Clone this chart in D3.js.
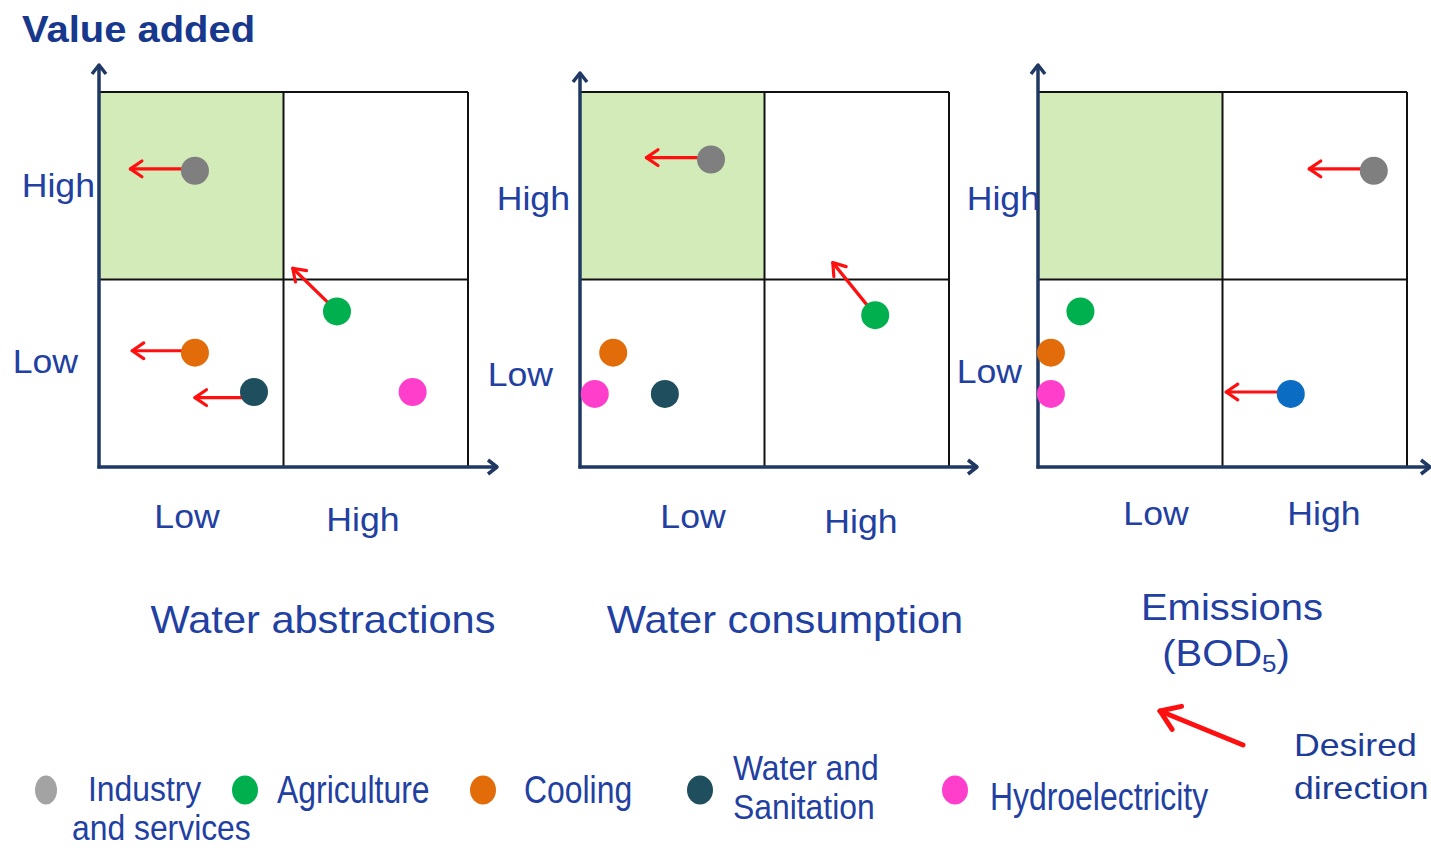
<!DOCTYPE html>
<html>
<head>
<meta charset="utf-8">
<script src="https://cdn.jsdelivr.net/npm/d3@7/dist/d3.min.js"></script>
<style>
  html, body { margin: 0; padding: 0; background: #ffffff; }
  svg { display: block; }
</style>
</head>
<body>
<script>
// ---------------- DATA ----------------
const sectors = ["Industry and services", "Agriculture", "Cooling", "Water and Sanitation", "Hydroelectricity"];
const levels = ["Low", "High"];
const panelTitles = ["Water abstractions", "Water consumption", "Emissions (BOD5)"];
const yTitle = "Value added";
const directionLabel = ["Desired", "direction"];

// positions on a 0..2 scale (0-1 = Low, 1-2 = High)
const abstractionsX = [0.52, 1.29, 0.52, 0.84, 1.70];
const abstractionsY = [1.58, 0.83, 0.61, 0.40, 0.40];
const abstractionsToX = [0.17, 1.05, 0.18, 0.52, null];
const abstractionsToY = [1.59, 1.06, 0.62, 0.37, null];

const consumptionX = [0.71, 1.60, 0.18, 0.46, 0.08];
const consumptionY = [1.64, 0.81, 0.61, 0.39, 0.39];
const consumptionToX = [0.36, 1.37, null, null, null];
const consumptionToY = [1.65, 1.09, null, null, null];

const emissionsX = [1.82, 0.23, 0.07, 1.37, 0.07];
const emissionsY = [1.58, 0.83, 0.61, 0.39, 0.39];
const emissionsToX = [1.47, null, null, 1.02, null];
const emissionsToY = [1.59, null, null, 0.40, null];

// ---------------- STYLE ----------------
const W = 1431, H = 850;
const textBlue = "#2140a2";
const titleBlue = "#17388c";
const axisNavy = "#1f3864";
const red = "#ff1010";
const quadrantGreen = "#d3eab9";
const sectorColors = ["#7f7f7f", "#00b04f", "#e36c0a", "#1f4e5e", "#ff3fcc"];
const legendColors = ["#a3a3a3", "#00b04f", "#e36c0a", "#1f4e5e", "#ff3fcc"];
const emissionsColors = ["#7f7f7f", "#00b04f", "#e36c0a", "#0b6cc4", "#ff3fcc"];
const FONT = "'Liberation Sans', Arial, sans-serif";

const svg = d3.select("body").append("svg").attr("width", W).attr("height", H)
  .style("font-family", FONT);

function txt(parent, str, x, y, size, opts = {}) {
  return parent.append("text")
    .attr("transform", `translate(${x},${y}) scale(${opts.sx || 1.08},1)`)
    .attr("text-anchor", opts.anchor || "start")
    .attr("font-size", size)
    .attr("font-weight", opts.weight || "normal")
    .attr("fill", opts.fill || textBlue)
    .text(str);
}

function arrow(g, x1, y1, x2, y2, color, width, head) {
  g.append("line").attr("x1", x1).attr("y1", y1).attr("x2", x2).attr("y2", y2)
    .attr("stroke", color).attr("stroke-width", width).attr("stroke-linecap", "round");
  const ang = Math.atan2(y1 - y2, x1 - x2);
  const a = 0.6;
  const p1 = [x2 + head * Math.cos(ang + a), y2 + head * Math.sin(ang + a)];
  const p2 = [x2 + head * Math.cos(ang - a), y2 + head * Math.sin(ang - a)];
  g.append("path").attr("d", `M${p1[0]},${p1[1]}L${x2},${y2}L${p2[0]},${p2[1]}`)
    .attr("fill", "none").attr("stroke", color).attr("stroke-width", width)
    .attr("stroke-linecap", "round").attr("stroke-linejoin", "round");
}

// title
txt(svg, yTitle, 22, 42, 37, { weight: "bold", fill: titleBlue, sx: 1.08 });

const panels = [
  { x0: 99, axisTop: 65, axisRight: 497, xs: abstractionsX, ys: abstractionsY, tx: abstractionsToX, ty: abstractionsToY, colors: sectorColors,
    lowY: [373, 78], highY: [197, 95], bottomLow: 187, bottomHigh: 363, bottomBase: [528, 531] },
  { x0: 580, axisTop: 73, axisRight: 977, xs: consumptionX, ys: consumptionY, tx: consumptionToX, ty: consumptionToY, colors: sectorColors,
    lowY: [386, 553], highY: [210, 570], bottomLow: 693, bottomHigh: 861, bottomBase: [528, 533] },
  { x0: 1038, axisTop: 65, axisRight: 1430, xs: emissionsX, ys: emissionsY, tx: emissionsToX, ty: emissionsToY, colors: emissionsColors,
    lowY: [383, 1022], highY: [210, 1040], bottomLow: 1156, bottomHigh: 1324, bottomBase: [525, 525] }
];

panels.forEach((p) => {
  const g = svg.append("g");
  const x = d3.scaleLinear().domain([0, 2]).range([p.x0, p.x0 + 369]);
  const y = d3.scaleLinear().domain([0, 2]).range([467, 92]);

  // green target quadrant (low pressure, high value)
  g.append("rect").attr("x", x(0)).attr("y", y(2)).attr("width", x(1) - x(0)).attr("height", y(1) - y(2))
    .attr("fill", quadrantGreen);

  // grid lines
  [1, 2].forEach(v => {
    g.append("line").attr("x1", x(v)).attr("x2", x(v)).attr("y1", y(2)).attr("y2", y(0))
      .attr("stroke", "#111").attr("stroke-width", 2);
    g.append("line").attr("x1", x(0)).attr("x2", x(2)).attr("y1", y(v)).attr("y2", y(v))
      .attr("stroke", "#111").attr("stroke-width", 2);
  });

  // axes with arrow heads
  g.append("line").attr("x1", x(0)).attr("x2", x(0)).attr("y1", y(0) + 1.5).attr("y2", p.axisTop)
    .attr("stroke", axisNavy).attr("stroke-width", 3.5);
  g.append("path").attr("d", `M${x(0) - 7},${p.axisTop + 9}L${x(0)},${p.axisTop}L${x(0) + 7},${p.axisTop + 9}`)
    .attr("fill", "none").attr("stroke", axisNavy).attr("stroke-width", 3.5).attr("stroke-linejoin", "round");
  g.append("line").attr("x1", x(0) - 1.5).attr("x2", p.axisRight).attr("y1", y(0)).attr("y2", y(0))
    .attr("stroke", axisNavy).attr("stroke-width", 3.5);
  g.append("path").attr("d", `M${p.axisRight - 9},${y(0) - 7}L${p.axisRight},${y(0)}L${p.axisRight - 9},${y(0) + 7}`)
    .attr("fill", "none").attr("stroke", axisNavy).attr("stroke-width", 3.5).attr("stroke-linejoin", "round");

  // axis level labels
  txt(g, levels[1], p.highY[1], p.highY[0], 33, { anchor: "end" });
  txt(g, levels[0], p.lowY[1], p.lowY[0], 33, { anchor: "end" });
  txt(g, levels[0], p.bottomLow, p.bottomBase[0], 33, { anchor: "middle" });
  txt(g, levels[1], p.bottomHigh, p.bottomBase[1], 33, { anchor: "middle" });

  // arrows (desired change): horizontal ones run at the arrow's own height
  sectors.forEach((s, i) => {
    if (p.tx[i] != null) {
      const horizontal = Math.abs(p.ty[i] - p.ys[i]) < 0.05;
      const startY = horizontal ? y(p.ty[i]) : y(p.ys[i]);
      arrow(g, x(p.xs[i]), startY, x(p.tx[i]), y(p.ty[i]), red, 3.2, 14);
    }
  });
  // points
  g.selectAll("circle.pt").data(sectors).join("circle").attr("class", "pt")
    .attr("cx", (d, i) => x(p.xs[i])).attr("cy", (d, i) => y(p.ys[i]))
    .attr("r", 14).attr("fill", (d, i) => p.colors[i]);
});

// panel titles
txt(svg, panelTitles[0], 323, 633, 38.5, { anchor: "middle" });
txt(svg, panelTitles[1], 785, 633, 38.5, { anchor: "middle" });
const emis = panelTitles[2].split(" ");
txt(svg, emis[0], 1232, 620, 37, { anchor: "middle" });
const bod = svg.append("text")
  .attr("transform", `translate(1226,666) scale(1.08,1)`)
  .attr("text-anchor", "middle").attr("font-size", 37).attr("fill", textBlue);
bod.append("tspan").text(emis[1].replace("5)", ""));
bod.append("tspan").attr("font-size", 24).attr("dy", 6).text("5");
bod.append("tspan").attr("dy", -6).text(")");

// legend
const legendItems = [
  { cx: 46, size: 35, tx: [[88, 801], [72, 840]], lines: ["Industry", "and services"] },
  { cx: 245, size: 38, tx: [[277, 803]], lines: ["Agriculture"] },
  { cx: 483, size: 38, tx: [[524, 803]], lines: ["Cooling"] },
  { cx: 700, size: 35, tx: [[733, 780], [733, 819]], lines: ["Water and", "Sanitation"] },
  { cx: 955, size: 38, tx: [[990, 810]], lines: ["Hydroelectricity"] }
];
legendItems.forEach((it, i) => {
  svg.append("ellipse").attr("cx", it.cx).attr("cy", 790).attr("rx", i === 0 ? 11 : 13).attr("ry", 14.5)
    .attr("fill", legendColors[i]);
  it.lines.forEach((l, j) => txt(svg, l, it.tx[j][0], it.tx[j][1], it.size, { sx: it.size === 38 ? 0.84 : 0.91 }));
});

// desired direction key
arrow(svg, 1243, 745, 1160, 711, red, 5, 22);
txt(svg, directionLabel[0], 1294, 756, 31, { sx: 1.15, fill: "#1d3c98" });
txt(svg, directionLabel[1], 1294, 799, 31, { sx: 1.15, fill: "#1d3c98" });
</script>
</body>
</html>
